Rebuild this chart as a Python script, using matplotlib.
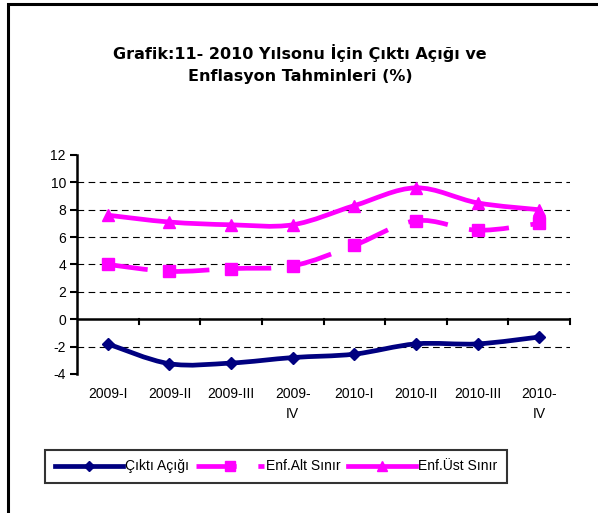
import matplotlib
matplotlib.use("Agg")
import matplotlib.pyplot as plt
from matplotlib.path import Path
from matplotlib.patches import PathPatch, Rectangle
from matplotlib.lines import Line2D

# chart data
quarters = ["2009-I", "2009-II", "2009-III", "2009-\nIV", "2010-I", "2010-II", "2010-III", "2010-\nIV"]
cikti_acigi = [-1.8, -3.25, -3.2, -2.8, -2.55, -1.8, -1.8, -1.3]
enf_alt = [4.0, 3.5, 3.7, 3.9, 5.4, 7.2, 6.5, 7.0]
enf_ust = [7.6, 7.1, 6.9, 6.9, 8.3, 9.6, 8.5, 8.0]
series_names = ["Çıktı Açığı", "Enf.Alt Sınır", "Enf.Üst Sınır"]
title = "Grafik:11- 2010 Yılsonu İçin Çıktı Açığı ve\nEnflasyon Tahminleri (%)"

NAVY = "#000080"
MAGENTA = "#FF00FF"

plt.rcParams['font.family'] = ['Liberation Sans', 'DejaVu Sans']
plt.rcParams['axes.unicode_minus'] = False


def smooth_path(xs, ys):
    # excel-like smoothed line: cubic bezier through every point
    verts = [(xs[0], ys[0])]
    codes = [Path.MOVETO]
    n = len(xs)
    for i in range(n - 1):
        x0, y0 = (xs[i - 1], ys[i - 1]) if i > 0 else (xs[i], ys[i])
        x1, y1 = xs[i], ys[i]
        x2, y2 = xs[i + 1], ys[i + 1]
        x3, y3 = (xs[i + 2], ys[i + 2]) if i + 2 < n else (x2, y2)
        c1 = (x1 + (x2 - x0) / 6, y1 + (y2 - y0) / 6)
        c2 = (x2 - (x3 - x1) / 6, y2 - (y3 - y1) / 6)
        verts += [c1, c2, (x2, y2)]
        codes += [Path.CURVE4] * 3
    return Path(verts, codes)


fig = plt.figure(figsize=(5.98, 5.13), dpi=100)
ax = fig.add_axes([0.1288, 0.271, 0.8244, 0.4269])

xs = list(range(len(quarters)))
lw = 3.4

ax.add_patch(PathPatch(smooth_path(xs, cikti_acigi), fill=False, edgecolor=NAVY, lw=lw, zorder=3))
ax.add_patch(PathPatch(smooth_path(xs, enf_alt), fill=False, edgecolor=MAGENTA, lw=lw,
                       linestyle=(0, (8.5, 4.6)), capstyle='butt', zorder=3))
ax.add_patch(PathPatch(smooth_path(xs, enf_ust), fill=False, edgecolor=MAGENTA, lw=lw, zorder=3))

ax.plot(xs, cikti_acigi, ls='none', marker='D', ms=6, color=NAVY, zorder=4)
ax.plot(xs, enf_alt, ls='none', marker='s', ms=8, color=MAGENTA, zorder=4)
ax.plot(xs, enf_ust, ls='none', marker='^', ms=8, color=MAGENTA, zorder=4)

ax.set_xlim(-0.5, len(quarters) - 0.5)
ax.set_ylim(-4, 12)
ax.set_yticks(range(-4, 13, 2))

for g in [-2, 2, 4, 6, 8, 10]:
    ax.axhline(g, color='black', lw=0.8, ls=(0, (6, 4)), zorder=1)
ax.axhline(0, color='black', lw=1.8, zorder=2)

# x ticks sit on the zero line at category boundaries
ax.set_xticks([])
for b in range(1, len(quarters) + 1):
    ax.plot([b - 0.5, b - 0.5], [0, -0.35], color='black', lw=1.5, clip_on=False, zorder=2)
for i, q in enumerate(quarters):
    ax.text(i, -4.95, q, ha='center', va='top', fontsize=10, linespacing=1.55)

for s in ['top', 'right', 'bottom']:
    ax.spines[s].set_visible(False)
ax.spines['left'].set_linewidth(1.8)
ax.tick_params(axis='y', length=5, width=1.5, labelsize=10, pad=3)

fig.text(0.502, 0.875, title, ha='center', va='center', fontsize=11.5, fontweight='bold',
         family='DejaVu Sans', linespacing=1.55)

handles = [
    Line2D([], [], color=NAVY, lw=lw, marker='D', ms=5),
    Line2D([], [], color=MAGENTA, lw=lw, marker='s', ms=7, ls=(0, (8.5, 4.6))),
    Line2D([], [], color=MAGENTA, lw=lw, marker='^', ms=7),
]
leg = fig.legend(handles, series_names, loc='center', bbox_to_anchor=(0.4615, 0.0907),
                 ncol=3, frameon=True, fancybox=False, fontsize=10, handlelength=4.9,
                 handletextpad=0.15, columnspacing=0.5, borderpad=0.7, borderaxespad=0)
leg.get_frame().set_edgecolor('black')
leg.get_frame().set_linewidth(1.5)

# outer chart border
fig.patches.append(Rectangle((8 / 598, -0.1), 1.2, 1.1 - 4 / 513, transform=fig.transFigure,
                             fill=False, edgecolor='black', lw=2.2))

fig.savefig("out.png", dpi=100)
